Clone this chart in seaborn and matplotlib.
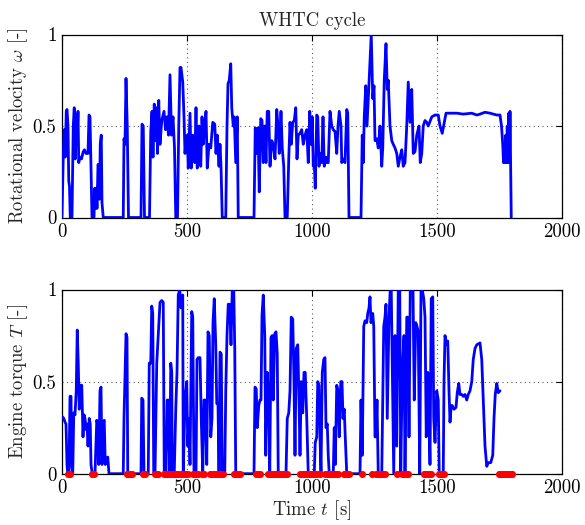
import matplotlib
matplotlib.use("Agg")
import matplotlib.pyplot as plt
import seaborn as sns
import pandas as pd

# ---------------- data ----------------
t_speed = [0, 5, 9, 13, 17, 20, 24, 27, 30, 33, 40, 45, 49, 53, 57, 60, 64, 67, 71, 78,
           85, 90, 96, 104, 108, 112, 120, 128, 131, 134, 137, 140, 144, 147, 150, 153, 157, 160, 165,
           245, 248, 252, 256, 261, 266, 316, 320, 325, 330, 350, 355, 360, 364, 369, 374, 378,
           382, 387, 392, 399, 408, 414, 420, 426, 432, 438, 444, 450, 455, 462, 467, 472,
           476, 483, 488, 492, 496, 501, 505, 512, 517, 523, 531, 536, 541, 548, 555, 560, 565,
           572, 576, 581, 588, 595, 603, 611, 616, 621, 628, 632, 636, 641, 655, 660, 664, 669,
           675, 679, 685, 689, 695, 701, 705, 768, 773, 779, 784, 789, 795, 800, 805, 811, 816,
           821, 827, 832, 839, 845, 852, 859, 864, 869, 876, 881, 887, 892, 901, 907, 912, 917,
           923, 929, 935, 940, 945, 952, 959, 965,
           972, 979, 985, 991, 996, 1001, 1005, 1009, 1013, 1019, 1023, 1028, 1032, 1039, 1044,
           1049, 1055, 1060, 1065, 1072, 1079, 1085, 1092, 1099, 1104, 1109, 1116, 1119, 1125,
           1132, 1139, 1143, 1148, 1196, 1201, 1205, 1209, 1215, 1220, 1225, 1232, 1237, 1243,
           1248, 1252, 1259, 1265, 1272, 1279, 1283, 1289, 1296, 1301, 1305, 1312, 1319, 1325,
           1332, 1339, 1345, 1352, 1359, 1365, 1372, 1379, 1385, 1392, 1399, 1405, 1412, 1419,
           1428, 1433, 1439, 1445, 1452, 1459, 1465, 1479, 1492, 1505, 1512, 1521, 1529, 1536,
           1579, 1605, 1639, 1659, 1672, 1692, 1712, 1739, 1752, 1758, 1763, 1766, 1769, 1772,
           1775, 1778, 1781, 1784, 1787, 1790, 1792, 1797]
w_speed = [0, .33, .48, .33, .58, .59, .5, .2, .17, 0, 0, .5, .6, .32, .56, .4, .58, .3, .33, .32,
           .36, .37, .35, .35, .56, .55, 0, 0, .16, .05, .16, .05, .29, .28, .1, .4, .45, .08, 0,
           0, .43, .4, .76, .5, 0, 0, .51, .5, 0, 0, .47, .58, .33, .62, .42, .6,
           .35, .64, .4, .53, .58, .48, .55, .45, .78, .45, .55, .38, 0, 0, .5, .82,
           .82, .74, .55, .35, .42, .45, .27, .57, .27, .45, .3, .6, .27, .5, .28, .55, .4,
           .52, .58, .27, .4, .38, .52, .51, .35, .45, .28, .4, .28, 0, 0, .5, .73, .75,
           .84, .6, .5, .55, .3, .55, 0, 0, .49, .35, .49, .14, .54, .53, .3, .5, .3,
           .58, .58, .28, .42, .4, .32, .59, .5, .35, .58, .38, .28, 0, 0, .32, .52, .4,
           .52, .53, .6, .32, .45, .46, .48, .4,
           .45, .48, .3, .58, .4, .55, .28, .3, .16, .56, .55, .28, .35, .3, .55,
           .28, .33, .3, .3, .58, .5, .48, .47, .35, .5, .58, .5, .3, .32,
           .3, .59, .57, 0, 0, .45, .3, .55, .72, .5, .65, .85, 1.0, .65,
           .72, .42, .43, .38, .5, .28, .38, .75, .95, .7, .75, .5, .42, .4,
           .38, .35, .28, .33, .37, .28, .3, .5, .74, .52, .7, .35, .36, .45,
           .5, .3, .35, .5, .53, .52, .5, .55, .56, .56, .5, .46, .52, .57,
           .57, .565, .57, .56, .565, .575, .57, .56, .56, .5, .4, .3, .4, .3,
           .45, .3, .5, .3, .57, .3, .58, 0]

t_torque = [1, 7, 12, 16, 20, 23, 28, 32, 36, 39, 43, 47, 52, 57, 61, 65, 69, 73, 79, 84,
            88, 92, 96, 100, 104, 109, 113, 116, 121, 132, 139, 143, 147, 152, 156, 160, 164,
            169, 173, 179, 183, 188, 245, 248, 252, 256, 260, 263, 316, 319, 324, 328, 345,
            349, 355, 359, 363, 367, 372, 379, 385, 392, 399, 405, 409, 416, 421, 425, 431,
            435, 439, 441, 449, 455, 460, 465, 471, 476, 483, 485, 492, 499, 503, 508, 512,
            519, 523, 528, 536, 540, 545, 552, 557, 563, 568, 573, 579, 584, 589, 595, 600,
            604, 609, 615, 619, 624, 628, 632, 637, 641, 651, 655, 660, 665, 671, 676, 681,
            687, 691, 695, 768, 772, 777, 781, 787, 792, 796, 800, 805, 811, 815, 821, 827,
            831, 836, 841, 845, 851, 856, 861, 865, 896, 901, 907, 912, 917, 923, 928, 932,
            937, 943, 948, 952, 957, 963, 968, 973, 979, 985, 1009, 1013, 1019, 1023, 1028,
            1032, 1036, 1041, 1047, 1052, 1056, 1061, 1065, 1069, 1085, 1089, 1093, 1099,
            1104, 1109, 1115, 1120, 1124, 1129, 1133, 1139, 1192, 1196, 1201, 1207, 1212,
            1219, 1223, 1228, 1232, 1236, 1243, 1247, 1252, 1256, 1260, 1265, 1279, 1287,
            1292, 1296, 1301, 1308, 1313, 1317, 1321, 1327, 1332, 1339, 1345, 1351, 1355,
            1361, 1368, 1372, 1379, 1384, 1388, 1393, 1399, 1404, 1409, 1415, 1420, 1425,
            1431, 1436, 1441, 1447, 1452, 1457, 1463, 1468, 1472, 1477, 1483, 1487, 1492,
            1499, 1505, 1509, 1525, 1528, 1532, 1539, 1543, 1548, 1552, 1557, 1561, 1568,
            1576, 1581, 1587, 1592, 1599, 1605, 1612, 1619, 1625, 1632, 1639, 1645, 1652,
            1659, 1672, 1679, 1685, 1692, 1699, 1705, 1715, 1723, 1728, 1733, 1739, 1745, 1752]
T_torque = [.31, .3, .28, .27, .05, 0, 0, .42, .42, .05, 0, .33, .32, .45, .78, .6, .35, .48, .48, .2,
            .32, .3, .24, .27, .15, .3, .27, .05, 0, 0, .29, .27, .05, .45, .47, .05, .28,
            .29, .05, .08, .09, 0, 0, .3, .52, .76, .74, 0, 0, .41, .4, 0, 0,
            .6, .6, .91, .87, 0, 0, .6, .75, .93, .94, .93, 0, 0, .4, .4, 0,
            .6, .55, 0, 0, .35, .55, .97, 1.0, .9, .97, 0, .4, .5, .15, .3, .05,
            .88, .85, 0, 0, .62, .63, .63, .3, 0, .4, .4, .05, .77, .75, .2, .3,
            .82, .95, .7, .38, .38, 0, .66, .65, 0, 0, .45, .75, .92, .92, .7, 1.0,
            1.0, .68, 0, 0, .47, .46, .25, .37, .4, .4, .86, .97, .75, .1, .55, .4,
            0, .74, .75, .4, .76, .77, .65, 0, 0, .3, .33, .45, .85, .84, .5, .1,
            .68, .7, .4, .1, .5, .33, .55, .55, .3, 0, 0, .17, .2, .5, .48,
            .2, 0, .55, .62, .63, .25, .27, .1, 0, 0, .25, .05, .48,
            .45, .2, .5, .5, .3, .35, .2, 0, 0, .4, .1, .8, .83,
            .82, .87, .9, .96, .82, .87, .8, .2, .2, .4, 0, 0, .8,
            .85, .92, .3, .85, 1.0, 1.0, .6, 0, .75, .15, 1.0, 1.0, 0,
            .55, .75, 0, .85, .85, .2, 1.0, 1.0, 1.0, .4, .82, .8, .77,
            0, 1.0, 1.0, .95, .85, .2, .55, .3, .05, .95, .96, .3, .17,
            .45, .4, 0, 0, .5, .75, .7, .72, .45, .28, .37, .37, .35,
            .36, .44, .49, .43, .43, .42, .43, .4, .43, .45, .5, .62, .68,
            .7, .71, .62, .4, .15, .04, .06, .06, .1, .3, .43, .49, .44, .45]

# zero-torque (motoring) instants marked in red
t_zero = [24, 32, 120, 128, 258, 265, 272, 279, 325, 331, 372, 378, 384, 408, 414, 420, 426,
          431, 443, 450, 456, 462, 475, 482, 488, 496, 502, 522, 530, 536, 542, 558, 566, 592,
          598, 606, 612, 620, 628, 636, 642, 688, 696, 704, 710, 774, 782, 790, 822, 830, 838,
          846, 852, 860, 868, 876, 884, 892, 898, 952, 958, 966, 972, 980, 988, 996, 1004,
          1012, 1018, 1032, 1052, 1058, 1066, 1074, 1082, 1090, 1098, 1104, 1126, 1132, 1140,
          1148, 1200, 1238, 1254, 1260, 1268, 1276, 1284, 1290, 1340, 1360, 1366, 1374, 1382,
          1446, 1452, 1460, 1468, 1474, 1506, 1512, 1520, 1526, 1746, 1752, 1758, 1764, 1770,
          1776, 1782, 1788, 1794, 1800]
T_zero = [0.0] * len(t_zero)

x_ticks = [0, 500, 1000, 1500, 2000]
y_ticks = [0, 0.5, 1]
y_ticklabels = ["0", "0.5", "1"]

# ---------------- style ----------------
sns.set_style("white")
plt.rcParams["font.family"] = ["cmr10", "DejaVu Serif"]
plt.rcParams["mathtext.fontset"] = "cm"
plt.rcParams["axes.unicode_minus"] = False
plt.rcParams["axes.formatter.use_mathtext"] = True

FS = 13.5
fig = plt.figure(figsize=(5.85, 5.25), dpi=100)
ax1 = fig.add_axes([62 / 585, 1 - 217.5 / 525, 500 / 585, 183 / 525])
ax2 = fig.add_axes([62 / 585, 1 - 473.7 / 525, 500 / 585, 184.2 / 525])

df_w = pd.DataFrame({"t": t_speed, "w": w_speed})
df_T = pd.DataFrame({"t": t_torque, "T": T_torque})
df_z = pd.DataFrame({"t": t_zero, "T": T_zero})

sns.lineplot(data=df_w, x="t", y="w", ax=ax1, color="#0000ff", lw=2.0,
             sort=False, estimator=None, zorder=3)
sns.lineplot(data=df_T, x="t", y="T", ax=ax2, color="#0000ff", lw=2.0,
             sort=False, estimator=None, zorder=3)
sns.scatterplot(data=df_z, x="t", y="T", ax=ax2, color="#ff0000", s=26,
                linewidth=0, zorder=4, clip_on=False)

for ax in (ax1, ax2):
    ax.set_xlim(0, 2000)
    ax.set_ylim(0, 1)
    ax.set_xticks(x_ticks)
    ax.set_xticklabels([str(v) for v in x_ticks], fontsize=FS)
    ax.set_yticks(y_ticks)
    ax.set_yticklabels(y_ticklabels, fontsize=FS)
    ax.grid(True, linestyle=(0, (1, 3)), color="0.35", lw=0.8)
    ax.tick_params(direction="in", length=4, width=0.8, top=True, right=True,
                   pad=4, colors="black")
    for sp in ax.spines.values():
        sp.set_visible(True)
        sp.set_color("black")
        sp.set_linewidth(0.9)

ax1.set_title("WHTC cycle", fontsize=FS, pad=6)
ax1.set_xlabel("")
ax1.set_ylabel(r"Rotational velocity $\omega$ [-]", fontsize=FS, labelpad=2)
ax2.set_xlabel(r"Time $t$ [s]", fontsize=FS, labelpad=1)
ax2.set_ylabel(r"Engine torque $T$ [-]", fontsize=FS, labelpad=2)

fig.savefig("out.png", dpi=100)
